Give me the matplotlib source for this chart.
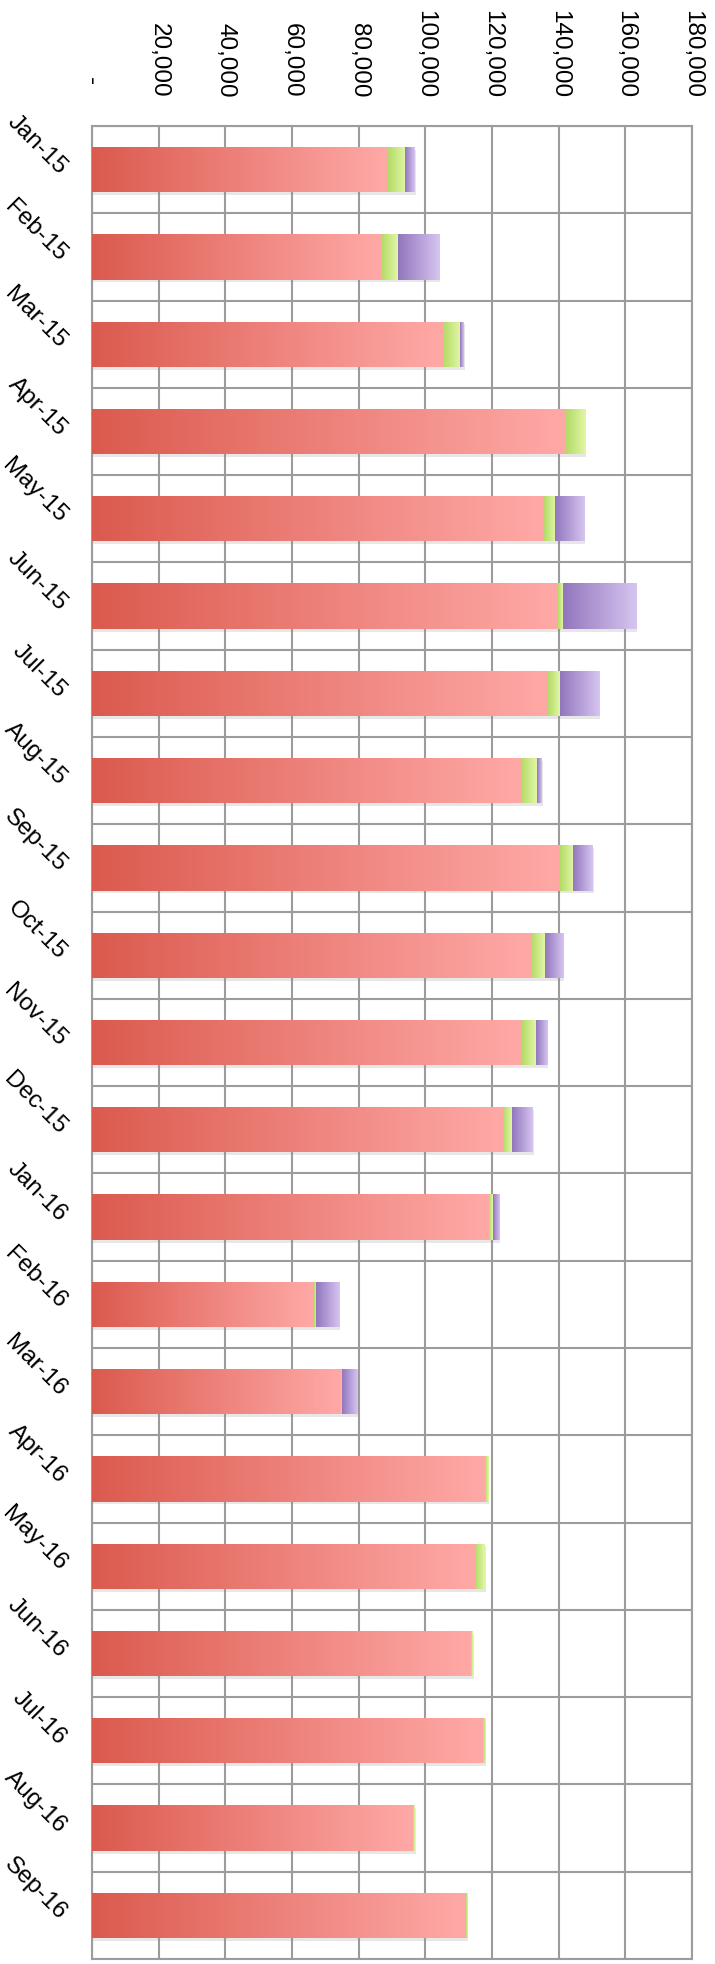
import numpy as np
import matplotlib
matplotlib.use("Agg")
import matplotlib.pyplot as plt
from matplotlib.colors import LinearSegmentedColormap
from matplotlib.ticker import FuncFormatter, FixedLocator
import matplotlib.patheffects as pe

plt.rcParams['font.family'] = ['Liberation Sans', 'DejaVu Sans']

months = ["Jan-15", "Feb-15", "Mar-15", "Apr-15", "May-15", "Jun-15", "Jul-15",
          "Aug-15", "Sep-15", "Oct-15", "Nov-15", "Dec-15", "Jan-16", "Feb-16",
          "Mar-16", "Apr-16", "May-16", "Jun-16", "Jul-16", "Aug-16", "Sep-16"]
series_red = [88700, 86600, 105200, 142200, 135500, 139900, 136900, 128800, 140400,
              131700, 129100, 123400, 119100, 66500, 74600, 117800, 114900, 113700,
              117300, 96400, 112300]
series_green = [5200, 5100, 5300, 5900, 3400, 1400, 3500, 4800, 4000, 4200, 4100,
                2700, 1100, 700, 500, 1200, 3000, 600, 700, 500, 400]
series_purple = [3000, 12400, 1100, 0, 8900, 22100, 11900, 1400, 5900, 5500, 3400,
                 6300, 1900, 7000, 4800, 0, 0, 0, 0, 0, 0]
x_ticks = [0, 20000, 40000, 60000, 80000, 100000, 120000, 140000, 160000, 180000]

W, H = 715, 1965
fig = plt.figure(figsize=(W / 100, H / 100), dpi=100)
ax = fig.add_axes([92 / W, 5 / H, 600 / W, 1833 / H])

n = len(months)
y = np.arange(n)
bar_h = 0.52
grid_c = '#9c9c9c'

red = np.array(series_red, dtype=float)
green = np.array(series_green, dtype=float)
purple = np.array(series_purple, dtype=float)

b1 = ax.barh(y, red, height=bar_h, color='#ee8c86', zorder=2, linewidth=0)
b2 = ax.barh(y, green, left=red, height=bar_h, color='#cdea88', zorder=2, linewidth=0)
b3 = ax.barh(y, purple, left=red + green, height=bar_h, color='#b49fd8', zorder=2, linewidth=0)

shadow = [pe.SimplePatchShadow(offset=(0.5, -2.0), shadow_rgbFace='#888888', alpha=0.2), pe.Normal()]
for bars in (b1, b2, b3):
    for p in bars:
        p.set_path_effects(shadow)

grad = np.linspace(0, 1, 256).reshape(1, -1)


def grad_fill(bars, c0, c1):
    cmap = LinearSegmentedColormap.from_list('g', [c0, c1])
    for p in bars:
        x0, y0 = p.get_x(), p.get_y()
        w, h = p.get_width(), p.get_height()
        if w <= 0:
            continue
        im = ax.imshow(grad, cmap=cmap, extent=[x0, x0 + w, y0 + h, y0],
                       aspect='auto', zorder=3, interpolation='bilinear')
        im.set_clip_path(p)


grad_fill(b1, '#db5a4e', '#ffa9a7')
grad_fill(b2, '#b3da66', '#e2f7a6')
grad_fill(b3, '#9276bd', '#d6c5f0')

ax.set_xlim(0, 180000)
ax.set_ylim(n - 0.5, -0.5)
ax.set_aspect('auto')

ax.xaxis.set_major_locator(FixedLocator(x_ticks))
ax.yaxis.set_major_locator(FixedLocator(y))
ax.yaxis.set_minor_locator(FixedLocator(np.arange(-0.5, n, 1.0)))
ax.grid(axis='x', which='major', color=grid_c, linewidth=1.5, zorder=0)
ax.grid(axis='y', which='minor', color=grid_c, linewidth=1.5, zorder=0)
ax.set_axisbelow(True)
for s in ax.spines.values():
    s.set_color(grid_c)
    s.set_linewidth(1.5)

ax.xaxis.tick_top()


def fmt(v, pos):
    if v == 0:
        return '-  '
    return f'{v:,.0f}'


ax.xaxis.set_major_formatter(FuncFormatter(fmt))
ax.tick_params(axis='x', which='major', length=0, pad=21, labelsize=17.5,
               labelrotation=-90, colors='black')
ax.tick_params(axis='x', which='both', bottom=False)

ax.set_yticks(y)
ax.set_yticklabels(months)
ax.tick_params(axis='y', which='both', length=0, pad=21, labelsize=17.5)
for lbl in ax.get_yticklabels():
    lbl.set_rotation(-45)
    lbl.set_rotation_mode('anchor')
    lbl.set_ha('right')
    lbl.set_va('center')

fig.savefig('out.png', dpi=100, facecolor='white')
